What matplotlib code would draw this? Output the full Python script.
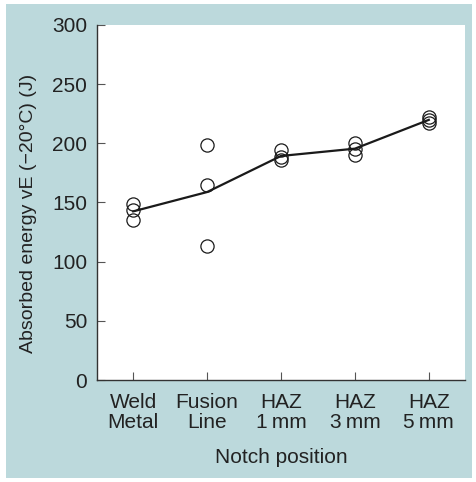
import matplotlib
matplotlib.use('Agg')
import matplotlib.pyplot as plt
from matplotlib.patches import Rectangle
import numpy as np

# categories and measured values (J)
positions = ["Weld\nMetal", "Fusion\nLine", "HAZ\n1\u2009mm", "HAZ\n3\u2009mm", "HAZ\n5\u2009mm"]
weld_metal = [148.5, 143.5, 135.5]
fusion_line = [198.5, 164.5, 113.5]
haz_1mm = [194.0, 188.5, 185.5]
haz_3mm = [200.5, 195.5, 190.5]
haz_5mm = [222.0, 220.0, 217.5]
yticks = [0, 50, 100, 150, 200, 250, 300]

groups = [weld_metal, fusion_line, haz_1mm, haz_3mm, haz_5mm]
means = [np.mean(g) for g in groups]

plt.rcParams['font.family'] = ['Liberation Sans', 'DejaVu Sans']
plt.rcParams['font.size'] = 15
txt = '#222222'

fig = plt.figure(figsize=(4.77, 4.82), dpi=100, facecolor='white')
fig.patches.append(Rectangle((6/477, 4/482), 466/477, 474/482, transform=fig.transFigure,
                             facecolor='#bcd9dc', edgecolor='none', zorder=-1))

ax = fig.add_axes([97/477, 1 - 380/482, 368/477, 355/482])
ax.set_facecolor('white')

for i, g in enumerate(groups):
    ax.plot([i] * len(g), g, 'o', ms=9.5, mfc='none', mec='#1a1a1a', mew=0.9, zorder=3)
ax.plot(range(len(means)), means, '-', color='#1a1a1a', lw=1.6, zorder=4)

ax.set_xlim(-0.49, 4.49)
ax.set_ylim(0, 300)
ax.set_yticks(yticks)
ax.set_xticks(range(len(positions)))
ax.set_xticklabels(positions, linespacing=1.12)

for s in ['top', 'right']:
    ax.spines[s].set_visible(False)
for s in ['left', 'bottom']:
    ax.spines[s].set_color('#333333')
    ax.spines[s].set_linewidth(1.0)

ax.tick_params(axis='both', direction='in', length=6, width=0.8, color='#555555',
               labelcolor=txt, labelsize=15)
ax.tick_params(axis='y', pad=7)
ax.tick_params(axis='x', pad=9)

ax.set_xlabel('Notch position', color=txt, labelpad=11)
ax.set_ylabel('Absorbed energy vE (\u221220\u00b0C) (J)', color=txt, fontsize=14)
ax.yaxis.set_label_coords(-0.163, 0.47)

fig.savefig('out.png', dpi=100, facecolor='white')
